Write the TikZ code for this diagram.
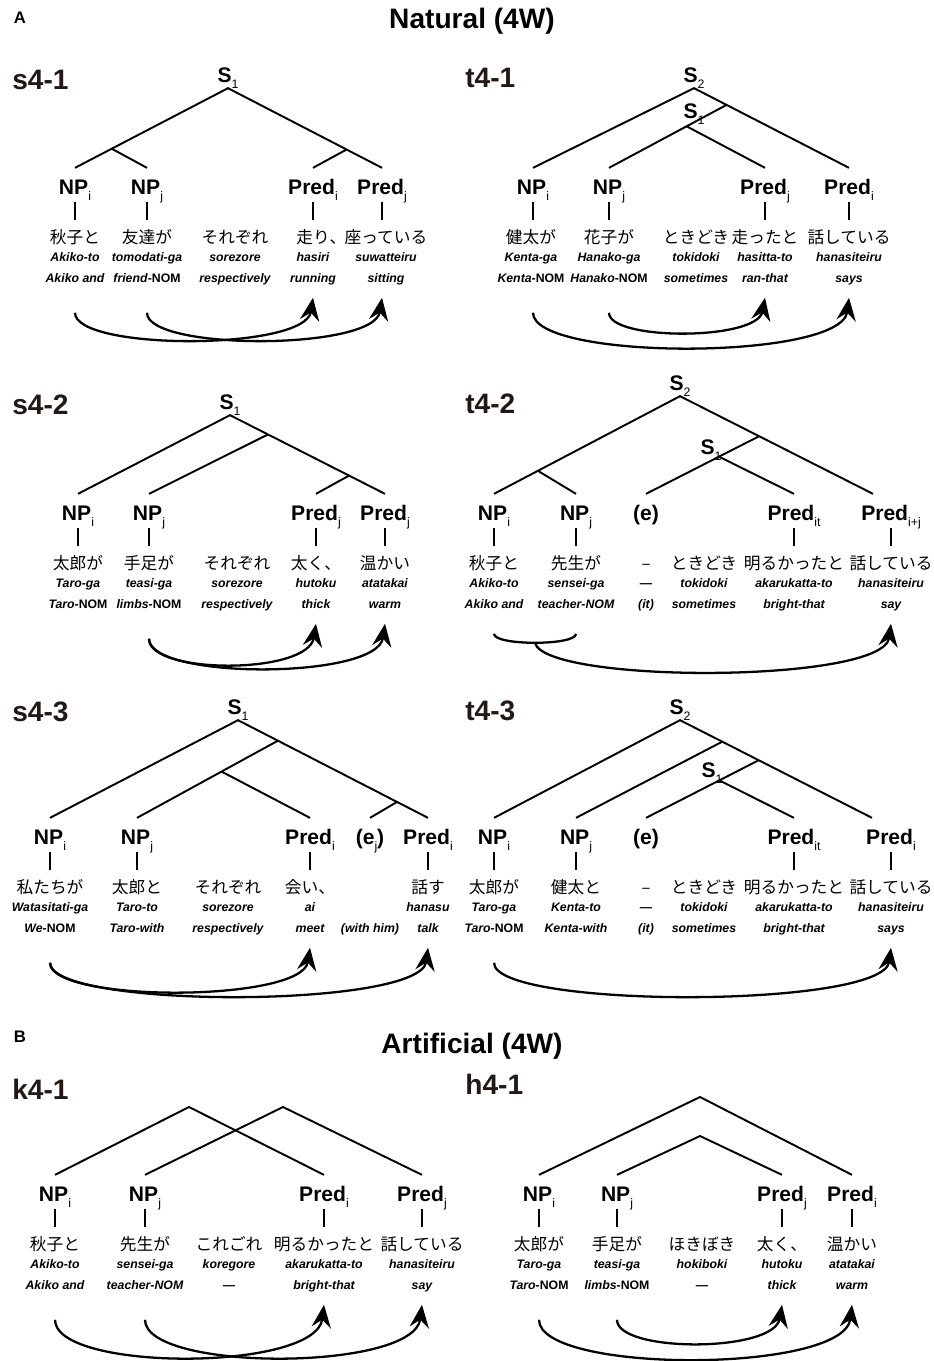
\documentclass[tikz,border=0pt]{standalone}
\usepackage{fontspec}
\setmainfont{Liberation Sans}
\newfontfamily\jpfont{Noto Sans CJK JP}
\usetikzlibrary{calc,arrows.meta}

\definecolor{ttl}{RGB}{35,24,21}
\newcommand{\idx}[1]{\raisebox{-0.55ex}{\fontsize{7}{7}\selectfont\mdseries #1}}
\newcommand{\nom}{\textup{-NOM}}
% one word column: Japanese, romaji, gloss
\newcommand{\wcol}[5]{%
  \node[jp] (#1) at (#2,50) {#3};
  \node[gl] (#1r) at (#2,71) {#4};
  \node[gl] (#1g) at (#2,92) {#5};}

\tikzset{
  cat/.style={font=\bfseries\fontsize{12}{12}\selectfont, anchor=base, text height=13.7pt, text depth=3.5pt, inner ysep=1pt, inner xsep=0pt, yshift=-4pt},
  sl/.style={font=\bfseries\fontsize{12}{12}\selectfont, anchor=base, text height=9pt, text depth=2pt, inner ysep=1pt, inner xsep=0pt, yshift=-4.3pt},
  jp/.style={font=\jpfont\fontsize{9.5}{10}\selectfont, anchor=base, text height=12.3pt, inner ysep=1pt, inner xsep=0pt, yshift=-3.6pt},
  gl/.style={font=\bfseries\itshape\fontsize{7}{8}\selectfont, anchor=base, text height=5pt, text depth=1.5pt, inner sep=0pt, yshift=-2.2pt},
  tt/.style={font=\bfseries\fontsize{16}{16}\selectfont, text=ttl, anchor=west, inner sep=0pt},
  hd/.style={font=\bfseries\fontsize{16}{16}\selectfont, inner sep=0pt},
  pl/.style={font=\bfseries\fontsize{9.5}{10}\selectfont, inner sep=0pt},
  tree/.style={line width=1.1pt},
  link/.style={line width=1.3pt, -{Stealth[length=13pt, width=11pt, inset=4.5pt]}}
}

\begin{document}
\begin{tikzpicture}[x=0.02cm, y=-0.02cm]
    \useasboundingbox (0,0) rectangle (933,1361);

    \node[pl] (pA) at (20,18) {A};
    \node[hd] (hA) at (472,21) {Natural (4W)};
    \node[pl] (pB) at (20,1037) {B};
    \node[hd] (hB) at (472,1046) {Artificial (4W)};

    \node[tt] (ts1) at (12,80) {s4-1};
    \node[tt] (tt1) at (465,78) {t4-1};
    \node[tt] (ts2) at (12,405) {s4-2};
    \node[tt] (tt2) at (465,404) {t4-2};
    \node[tt] (ts3) at (12,712) {s4-3};
    \node[tt] (tt3) at (465,711) {t4-3};
    \node[tt] (tk1) at (12,1089) {k4-1};
    \node[tt] (th1) at (465,1084) {h4-1};

    \begin{scope}[shift={(0,187)}]
        % s4-1
        \node[sl] (s1S) at (228,-112) {S\idx{1}};
        \node[cat] (s1c1) at (75,0) {NP\idx{i}};
        \node[cat] (s1c2) at (147,0) {NP\idx{j}};
        \node[cat] (s1c4) at (313,0) {Pred\idx{i}};
        \node[cat] (s1c5) at (382,0) {Pred\idx{j}};
        \wcol{s1w1}{75}{秋子と}{Akiko-to}{Akiko and}
        \wcol{s1w2}{147}{友達が}{tomodati-ga}{friend\nom}
        \wcol{s1w3}{235}{それぞれ}{sorezore}{respectively}
        \wcol{s1w4}{313}{走り\rlap{、}}{hasiri}{running}
        \wcol{s1w5}{386}{座っている}{suwatteiru}{sitting}
        \coordinate (s1b1) at ($(s1S.south)!0.76!(s1c1.north)$);
        \coordinate (s1b2) at ($(s1S.south)!0.77!(s1c5.north)$);
        \draw[tree] (s1c1.north) -- (s1S.south) -- (s1c5.north);
        \draw[tree] (s1b1) -- (s1c2.north);
        \draw[tree] (s1b2) -- (s1c4.north);
        \foreach \i in {1,2,4,5}
            \draw[tree] (s1c\i.south) -- (s1c\i.south |- s1w\i.north);
        \draw[link] ($(s1w1g)+(0,33)$) .. controls +(0,38) and +(-8,53) .. ($(s1w4g)+(0,18)$);
        \draw[link] ($(s1w2g)+(0,33)$) .. controls +(0,38) and +(-8,53) .. ($(s1c5.south |- s1w5g)+(0,18)$);

        % t4-1
        \node[sl] (t1S2) at (694,-112) {S\idx{2}};
        \node[sl] (t1S1) at (694,-76) {S\idx{1}};
        \node[cat] (t1c1) at (533,0) {NP\idx{i}};
        \node[cat] (t1c2) at (609,0) {NP\idx{j}};
        \node[cat] (t1c4) at (765,0) {Pred\idx{j}};
        \node[cat] (t1c5) at (849,0) {Pred\idx{i}};
        \wcol{t1w1}{531}{健太が}{Kenta-ga}{Kenta\nom}
        \wcol{t1w2}{609}{花子が}{Hanako-ga}{Hanako\nom}
        \wcol{t1w3}{696}{ときどき}{tokidoki}{sometimes}
        \wcol{t1w4}{765}{走ったと}{hasitta-to}{ran-that}
        \wcol{t1w5}{849}{話している}{hanasiteiru}{says}
        \coordinate (t1b1) at ($(t1S2.south)!0.21!(t1c5.north)$);
        \coordinate (t1a) at ($(t1b1)!0.34!(t1c2.north)$);
        \draw[tree] (t1c1.north) -- (t1S2.south) -- (t1c5.north);
        \draw[tree] (t1b1) -- (t1c2.north);
        \draw[tree] (t1a) -- (t1c4.north);
        \foreach \i in {1,2,4,5}
            \draw[tree] (t1c\i.south) -- (t1c\i.south |- t1w\i.north);
        \draw[link] ($(t1c1.south |- t1w1g)+(0,33)$) .. controls +(0,48) and +(-8,63) .. ($(t1w5g)+(0,18)$);
        \draw[link] ($(t1w2g)+(0,33)$) .. controls +(0,28) and +(-8,43) .. ($(t1w4g)+(0,18)$);
    \end{scope}

    \begin{scope}[shift={(0,513)}]
        % s4-2
        \node[sl] (s2S) at (230,-111) {S\idx{1}};
        \node[cat] (s2c1) at (78,0) {NP\idx{i}};
        \node[cat] (s2c2) at (149,0) {NP\idx{j}};
        \node[cat] (s2c4) at (316,0) {Pred\idx{j}};
        \node[cat] (s2c5) at (385,0) {Pred\idx{j}};
        \wcol{s2w1}{78}{太郎が}{Taro-ga}{Taro\nom}
        \wcol{s2w2}{149}{手足が}{teasi-ga}{limbs\nom}
        \wcol{s2w3}{237}{それぞれ}{sorezore}{respectively}
        \wcol{s2w4}{316}{太く、}{hutoku}{thick}
        \wcol{s2w5}{385}{温かい}{atatakai}{warm}
        \coordinate (s2b1) at ($(s2S.south)!0.245!(s2c5.north)$);
        \coordinate (s2b2) at ($(s2S.south)!0.768!(s2c5.north)$);
        \draw[tree] (s2c1.north) -- (s2S.south) -- (s2c5.north);
        \draw[tree] (s2b1) -- (s2c2.north);
        \draw[tree] (s2b2) -- (s2c4.north);
        \foreach \i in {1,2,4,5}
            \draw[tree] (s2c\i.south) -- (s2c\i.south |- s2w\i.north);
        \draw[link] ($(s2w2g)+(0,33)$) .. controls +(0,36) and +(-8,51) .. ($(s2w4g)+(0,18)$);
        \draw[link] ($(s2w2g)+(0,33)$) .. controls +(0,41) and +(-8,56) .. ($(s2w5g)+(0,18)$);

        % t4-2
        \node[sl] (t2S2) at (680,-130) {S\idx{2}};
        \node[sl] (t2S1) at (711,-66) {S\idx{1}};
        \node[cat] (t2c1) at (494,0) {NP\idx{i}};
        \node[cat] (t2c2) at (576,0) {NP\idx{j}};
        \node[cat] (t2c3) at (646,0) {(e)};
        \node[cat] (t2c5) at (794,0) {Pred\idx{it}};
        \node[cat] (t2c6) at (891,0) {Pred\idx{i+j}};
        \wcol{t2w1}{494}{秋子と}{Akiko-to}{Akiko and}
        \wcol{t2w2}{576}{先生が}{sensei-ga}{teacher-NOM}
        \wcol{t2w3}{646}{–}{—}{(it)}
        \wcol{t2w4}{704}{ときどき}{tokidoki}{sometimes}
        \wcol{t2w5}{794}{明るかったと}{akarukatta-to}{bright-that}
        \wcol{t2w6}{891}{話している}{hanasiteiru}{say}
        \coordinate (t2e) at ($(t2c6.north)+(-18,0)$);
        \coordinate (t2b1) at ($(t2S2.south)!0.764!(t2c1.north)$);
        \coordinate (t2b2) at ($(t2S2.south)!0.41!(t2e)$);
        \coordinate (t2a) at ($(t2b2)!0.355!(t2c3.north)$);
        \draw[tree] (t2c1.north) -- (t2S2.south) -- (t2e);
        \draw[tree] (t2b1) -- (t2c2.north);
        \draw[tree] (t2b2) -- (t2c3.north);
        \draw[tree] (t2a) -- (t2c5.north);
        \foreach \i in {1,2,5,6}
            \draw[tree] (t2c\i.south) -- (t2c\i.south |- t2w\i.north);
        \coordinate (t2m) at ($(t2w1g)!0.5!(t2w2g)+(0,37)$);
        \draw[link, -] ($(t2w1g)+(0,28)$) .. controls +(0,12) and +(0,12) .. ($(t2w2g)+(0,28)$);
        \draw[link] (t2m) .. controls +(10,41) and +(-8,60) .. ($(t2w6g)+(0,18)$);
    \end{scope}

    \begin{scope}[shift={(0,837)}]
        % s4-3
        \node[sl] (s3S) at (238,-130) {S\idx{1}};
        \node[cat] (s3c1) at (50,0) {NP\idx{i}};
        \node[cat] (s3c2) at (137,0) {NP\idx{j}};
        \node[cat] (s3c4) at (310,0) {Pred\idx{i}};
        \node[cat] (s3c5) at (370,0) {(e\idx{j})};
        \node[cat] (s3c6) at (428,0) {Pred\idx{i}};
        \wcol{s3w1}{50}{私たちが}{Watasitati-ga}{We\nom}
        \wcol{s3w2}{137}{太郎と}{Taro-to}{Taro-with}
        \wcol{s3w3}{228}{それぞれ}{sorezore}{respectively}
        \wcol{s3w4}{310}{会い、}{ai}{meet}
        \node[gl] (s3w5g) at (370,92) {(with him)};
        \wcol{s3w6}{428}{話す}{hanasu}{talk}
        \coordinate (s3b1) at ($(s3S.south)!0.21!(s3c6.north)$);
        \coordinate (s3b2) at ($(s3b1)!0.40!(s3c2.north)$);
        \coordinate (s3b3) at ($(s3S.south)!0.837!(s3c6.north)$);
        \draw[tree] (s3c1.north) -- (s3S.south) -- (s3c6.north);
        \draw[tree] (s3b1) -- (s3c2.north);
        \draw[tree] (s3b2) -- (s3c4.north);
        \draw[tree] (s3b3) -- (s3c5.north);
        \foreach \i in {1,2,4,6}
            \draw[tree] (s3c\i.south) -- (s3c\i.south |- s3w\i.north);
        \draw[link] ($(s3w1g)+(0,33)$) .. controls +(0,40) and +(-8,55) .. ($(s3w4g)+(0,18)$);
        \draw[link] ($(s3w1g)+(0,33)$) .. controls +(0,46) and +(-8,61) .. ($(s3w6g)+(0,18)$);

        % t4-3
        \node[sl] (t3S2) at (680,-130) {S\idx{2}};
        \node[sl] (t3S1) at (712,-67) {S\idx{1}};
        \node[cat] (t3c1) at (494,0) {NP\idx{i}};
        \node[cat] (t3c2) at (576,0) {NP\idx{j}};
        \node[cat] (t3c3) at (646,0) {(e)};
        \node[cat] (t3c5) at (794,0) {Pred\idx{it}};
        \node[cat] (t3c6) at (891,0) {Pred\idx{i}};
        \wcol{t3w1}{494}{太郎が}{Taro-ga}{Taro\nom}
        \wcol{t3w2}{576}{健太と}{Kenta-to}{Kenta-with}
        \wcol{t3w3}{646}{–}{—}{(it)}
        \wcol{t3w4}{704}{ときどき}{tokidoki}{sometimes}
        \wcol{t3w5}{794}{明るかったと}{akarukatta-to}{bright-that}
        \wcol{t3w6}{891}{話している}{hanasiteiru}{says}
        \coordinate (t3e) at ($(t3c6.north)+(-19,0)$);
        \coordinate (t3b1) at ($(t3S2.south)!0.22!(t3e)$);
        \coordinate (t3b2) at ($(t3S2.south)!0.41!(t3e)$);
        \coordinate (t3a) at ($(t3b2)!0.35!(t3c3.north)$);
        \draw[tree] (t3c1.north) -- (t3S2.south) -- (t3e);
        \draw[tree] (t3b1) -- (t3c2.north);
        \draw[tree] (t3b2) -- (t3c3.north);
        \draw[tree] (t3a) -- (t3c5.north);
        \foreach \i in {1,2,5,6}
            \draw[tree] (t3c\i.south) -- (t3c\i.south |- t3w\i.north);
        \draw[link] ($(t3w1g)+(0,33)$) .. controls +(0,46) and +(-8,61) .. ($(t3w6g)+(0,18)$);
    \end{scope}

    \begin{scope}[shift={(0,1194)}]
        % k4-1
        \coordinate (k1a) at (189,-87);
        \coordinate (k1b) at (283,-87);
        \node[cat] (k1c1) at (55,0) {NP\idx{i}};
        \node[cat] (k1c2) at (145,0) {NP\idx{j}};
        \node[cat] (k1c4) at (324,0) {Pred\idx{i}};
        \node[cat] (k1c5) at (422,0) {Pred\idx{j}};
        \wcol{k1w1}{55}{秋子と}{Akiko-to}{Akiko and}
        \wcol{k1w2}{145}{先生が}{sensei-ga}{teacher-NOM}
        \wcol{k1w3}{229}{これごれ}{koregore}{—}
        \wcol{k1w4}{324}{明るかったと}{akarukatta-to}{bright-that}
        \wcol{k1w5}{422}{話している}{hanasiteiru}{say}
        \draw[tree] (k1c1.north) -- (k1a) -- (k1c4.north);
        \draw[tree] (k1c2.north) -- (k1b) -- (k1c5.north);
        \foreach \i in {1,2,4,5}
            \draw[tree] (k1c\i.south) -- (k1c\i.south |- k1w\i.north);
        \draw[link] ($(k1w1g)+(0,33)$) .. controls +(0,52) and +(-8,67) .. ($(k1w4g)+(0,18)$);
        \draw[link] ($(k1w2g)+(0,33)$) .. controls +(0,52) and +(-8,67) .. ($(k1w5g)+(0,18)$);

        % h4-1
        \coordinate (h1a) at (700,-97);
        \coordinate (h1b) at (700,-58);
        \node[cat] (h1c1) at (539,0) {NP\idx{i}};
        \node[cat] (h1c2) at (617,0) {NP\idx{j}};
        \node[cat] (h1c4) at (782,0) {Pred\idx{j}};
        \node[cat] (h1c5) at (852,0) {Pred\idx{i}};
        \wcol{h1w1}{539}{太郎が}{Taro-ga}{Taro\nom}
        \wcol{h1w2}{617}{手足が}{teasi-ga}{limbs\nom}
        \wcol{h1w3}{702}{ほきぼき}{hokiboki}{—}
        \wcol{h1w4}{782}{太く、}{hutoku}{thick}
        \wcol{h1w5}{852}{温かい}{atatakai}{warm}
        \draw[tree] (h1c1.north) -- (h1a) -- (h1c5.north);
        \draw[tree] (h1c2.north) -- (h1b) -- (h1c4.north);
        \foreach \i in {1,2,4,5}
            \draw[tree] (h1c\i.south) -- (h1c\i.south |- h1w\i.north);
        \draw[link] ($(h1w1g)+(0,33)$) .. controls +(0,54) and +(-8,69) .. ($(h1w5g)+(0,18)$);
        \draw[link] ($(h1w2g)+(0,33)$) .. controls +(0,33) and +(-8,48) .. ($(h1w4g)+(0,18)$);
    \end{scope}
\end{tikzpicture}
\end{document}
